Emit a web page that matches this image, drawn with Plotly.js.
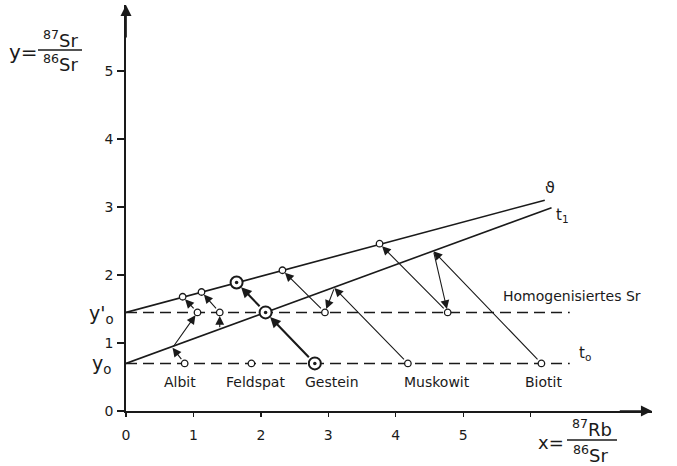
<!DOCTYPE html>
<html><head><meta charset="utf-8">
<script src="https://cdn.plot.ly/plotly-3.0.1.min.js"></script>
<style>html,body{margin:0;padding:0;background:#fff}#chart{width:677px;height:466px}</style>
</head><body><div id="chart"></div>
<script>
// ---- data ----
const minerals = ['Albit', 'Feldspat', 'Gestein', 'Muskowit', 'Biotit'];
const labelX   = [0.80, 1.92, 3.06, 4.61, 6.19];
const labelY   = [0.43, 0.43, 0.43, 0.43, 0.43];
// state at t0 (bottom dashed line)
const xT0 = [0.87, 1.86, 2.80, 4.18, 6.16];
const yT0 = [0.70, 0.70, 0.70, 0.70, 0.70];
// state at t1 on the t1 isochron, before homogenisation
const xT1 = [0.69, 1.39, 2.07, 3.09, 4.56];
const yT1 = [0.93, 1.21, 1.45, 1.81, 2.35];
// after Sr homogenisation
const xHom = [1.06, 1.39, 2.07, 2.95, 4.77];
const yHom = [1.45, 1.45, 1.45, 1.45, 1.45];
// today (upper isochron)
const xNow = [0.84, 1.12, 1.64, 2.32, 3.76];
const yNow = [1.68, 1.75, 1.89, 2.07, 2.46];
const boldIndex = 2; // Gestein
// reference lines
const y0 = 0.70, y0p = 1.45;
const dashX = [0, 6.58];
const isoT1X = [0, 6.31], isoT1Y = [0.70, 2.99];
const isoNowX = [0, 6.21], isoNowY = [1.45, 3.10];
// ticks
const xTickVals = [0, 1, 2, 3, 4, 5, 6];
const xTickText = ['0', '1', '2', '3', '4', '5', ''];
const yTickVals = [0, 1, 2, 3, 4, 5];
const xRange = [0, 7.8], yRange = [0, 5.97];

// ---- drawing ----
const INK = '#1a1a1a';
const FONT = 'DejaVu Sans';
const M = {l: 126, r: 25, t: 5, b: 55};
const W = 677 - M.l - M.r, H = 466 - M.t - M.b;
const P = (px, py) => ({x: (px - M.l) / W, y: (466 - M.b - py) / H});

const sel = (arr, keep) => arr.filter((_, i) => keep(i));
const notBold = i => i !== boldIndex;
const isBold = i => i === boldIndex;

const traces = [
  {x: dashX, y: [y0, y0], mode: 'lines', line: {color: INK, width: 1.5, dash: '11px,6px'}, hoverinfo: 'skip'},
  {x: dashX, y: [y0p, y0p], mode: 'lines', line: {color: INK, width: 1.5, dash: '11px,6px'}, hoverinfo: 'skip'},
  {x: isoT1X, y: isoT1Y, mode: 'lines', line: {color: INK, width: 1.6}, hoverinfo: 'skip'},
  {x: isoNowX, y: isoNowY, mode: 'lines', line: {color: INK, width: 1.6}, hoverinfo: 'skip'},
  {x: [...sel(xT0, notBold), ...sel(xHom, notBold), ...sel(xNow, notBold)],
   y: [...sel(yT0, notBold), ...sel(yHom, notBold), ...sel(yNow, notBold)],
   mode: 'markers', marker: {symbol: 'circle', size: 6.5, color: '#fff', line: {color: INK, width: 1.3}}, hoverinfo: 'skip'},
  {x: [...sel(xT0, isBold), ...sel(xHom, isBold), ...sel(xNow, isBold)],
   y: [...sel(yT0, isBold), ...sel(yHom, isBold), ...sel(yNow, isBold)],
   mode: 'markers', marker: {symbol: 'circle', size: 12, color: '#fff', line: {color: INK, width: 2}}, hoverinfo: 'skip'},
  {x: [...sel(xT0, isBold), ...sel(xHom, isBold), ...sel(xNow, isBold)],
   y: [...sel(yT0, isBold), ...sel(yHom, isBold), ...sel(yNow, isBold)],
   mode: 'markers', marker: {symbol: 'circle', size: 3.5, color: INK}, hoverinfo: 'skip'}
];

const annotations = [];
function arrow(x0, y0a, x1, y1, bold, startOff, endOff) {
  if (Math.abs(x1 - x0) < 1e-6 && Math.abs(y1 - y0a) < 1e-6) return;
  annotations.push({
    x: x1, y: y1, ax: x0, ay: y0a, xref: 'x', yref: 'y', axref: 'x', ayref: 'y',
    text: '', showarrow: true, arrowhead: 2,
    arrowsize: bold ? 1.0 : 1.6, arrowwidth: bold ? 2.1 : 1.1, arrowcolor: INK,
    standoff: endOff, startstandoff: startOff
  });
}
minerals.forEach((m, i) => {
  const b = i === boldIndex;
  const r = b ? 6.5 : 3.5;
  const t1Circle = Math.abs(xT1[i] - xHom[i]) < 1e-6 && Math.abs(yT1[i] - yHom[i]) < 1e-6;
  arrow(xT0[i], yT0[i], xT1[i], yT1[i], b, r, t1Circle ? r : 0);
  arrow(xT1[i], yT1[i], xHom[i], yHom[i], b, 0, r);
  arrow(xHom[i], yHom[i], xNow[i], yNow[i], b, r, r);
  annotations.push({x: labelX[i], y: labelY[i], xref: 'x', yref: 'y', text: m, showarrow: false,
    xanchor: 'center', yanchor: 'middle', font: {family: FONT, size: 14, color: INK}});
});
// axis arrowheads
annotations.push({x: xRange[1], y: 0, ax: xRange[1] - 0.5, ay: 0, xref: 'x', yref: 'y', axref: 'x', ayref: 'y',
  text: '', showarrow: true, arrowhead: 2, arrowsize: 1.3, arrowwidth: 1.7, arrowcolor: INK});
annotations.push({x: 0, y: yRange[1], ax: 0, ay: yRange[1] - 0.5, xref: 'x', yref: 'y', axref: 'x', ayref: 'y',
  text: '', showarrow: true, arrowhead: 2, arrowsize: 1.3, arrowwidth: 1.7, arrowcolor: INK});

function txt(px, py, text, size) {
  const p = P(px, py);
  annotations.push({x: p.x, y: p.y, xref: 'paper', yref: 'paper', text: text, showarrow: false,
    xanchor: 'center', yanchor: 'middle', font: {family: FONT, size: size, color: INK}});
}
function dtxt(x, y, text, size) {
  annotations.push({x: x, y: y, xref: 'x', yref: 'y', text: text, showarrow: false,
    xanchor: 'center', yanchor: 'middle', font: {family: FONT, size: size, color: INK}});
}
// curve labels
dtxt(6.29, 3.28, 'ϑ', 16);
dtxt(6.47, 2.87, 't<sub>1</sub>', 15);
dtxt(6.80, 0.84, 't<sub>o</sub>', 15);
dtxt(6.61, 1.69, 'Homogenisiertes Sr', 14);
// y0 labels
annotations.push({x: P(101, 0).x, y: 0.68, xref: 'paper', yref: 'y', text: 'y<sub>o</sub>', showarrow: false,
  xanchor: 'center', yanchor: 'middle', font: {family: FONT, size: 19, color: INK}});
annotations.push({x: P(101, 0).x, y: 1.42, xref: 'paper', yref: 'y', text: "y'<sub>o</sub>", showarrow: false,
  xanchor: 'center', yanchor: 'middle', font: {family: FONT, size: 19, color: INK}});
// axis titles as fractions
txt(23, 52, 'y=', 20);
txt(60, 39, '<sup>87</sup>Sr', 18);
txt(60, 63, '<sup>86</sup>Sr', 18);
txt(551, 443, 'x=', 18);
txt(592, 428, '<sup>87</sup>Rb', 18);
txt(590, 454, '<sup>86</sup>Sr', 18);

const shapes = [
  {type: 'line', xref: 'paper', yref: 'paper', line: {color: INK, width: 1.4},
   x0: P(38, 0).x, x1: P(82, 0).x, y0: P(0, 50).y, y1: P(0, 50).y},
  {type: 'line', xref: 'paper', yref: 'paper', line: {color: INK, width: 1.4},
   x0: P(567, 0).x, x1: P(617, 0).x, y0: P(0, 440).y, y1: P(0, 440).y}
];

const axisCommon = {showgrid: false, zeroline: false, showline: true, linecolor: INK, linewidth: 1.8,
  ticks: 'outside', tickcolor: INK, tickwidth: 1.3, fixedrange: true,
  tickfont: {family: FONT, size: 14, color: INK}};

const layout = {
  width: 677, height: 466, margin: M, paper_bgcolor: '#fff', plot_bgcolor: '#fff', showlegend: false,
  xaxis: Object.assign({}, axisCommon, {range: xRange, tickmode: 'array', tickvals: xTickVals, ticktext: xTickText,
    ticklen: 4, ticklabelstandoff: 6}),
  yaxis: Object.assign({}, axisCommon, {range: yRange, tickmode: 'array', tickvals: yTickVals,
    ticklen: 7, ticklabelstandoff: 1}),
  annotations: annotations, shapes: shapes
};
Plotly.newPlot('chart', traces, layout, {staticPlot: true, displayModeBar: false});
</script></body></html>
